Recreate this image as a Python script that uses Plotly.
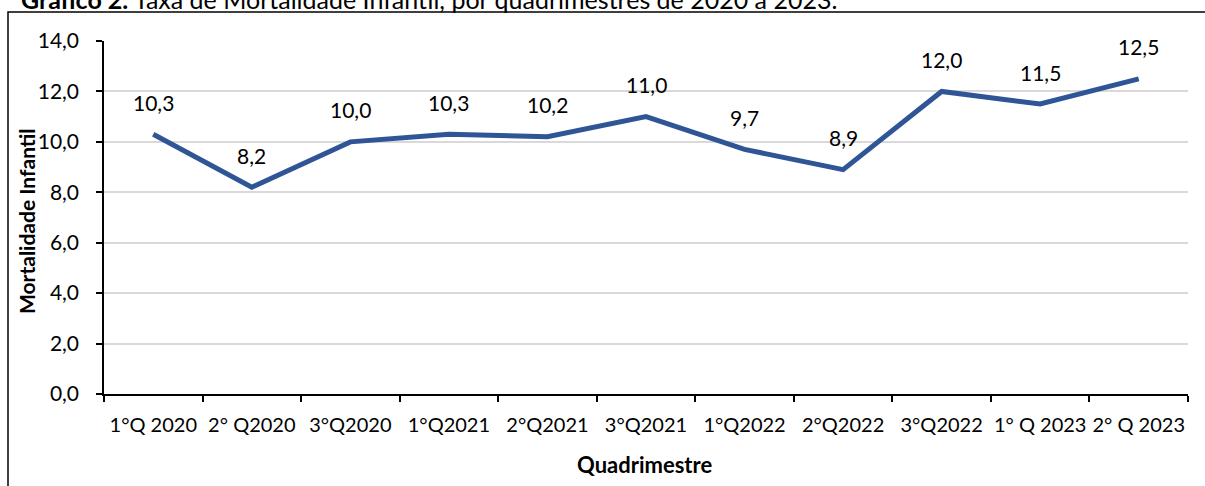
import plotly.graph_objects as go

categories = ["1°Q 2020", "2° Q2020", "3°Q2020", "1°Q2021", "2°Q2021", "3°Q2021",
              "1°Q2022", "2°Q2022", "3°Q2022", "1° Q 2023", "2° Q 2023"]
values = [10.3, 8.2, 10.0, 10.3, 10.2, 11.0, 9.7, 8.9, 12.0, 11.5, 12.5]
y_ticks = [0, 2, 4, 6, 8, 10, 12, 14]

W, H = 1205, 486
ML, MR, MT, MB = 104, 17, 41, 92
PW, PH = W - ML - MR, H - MT - MB

def px_x(px):
    return (px - ML) / PW

def px_y(py):
    return (H - MB - py) / PH

FONT = "Lato"
fig = go.Figure()
fig.add_trace(go.Scatter(
    x=categories, y=values, mode="lines",
    line=dict(color="#2F5597", width=5),
    hoverinfo="x+y", showlegend=False,
))

def fmt(v):
    return f"{v:.1f}".replace(".", ",")

for c, v in zip(categories, values):
    fig.add_annotation(x=c, y=v, text=fmt(v), showarrow=False, yshift=32,
                       font=dict(family=FONT, size=21, color="#000000"))

# Title (partially cut at top, as in the reference)
fig.add_annotation(xref="paper", yref="paper", x=px_x(19), y=px_y(-1),
                   xanchor="left", yanchor="middle", showarrow=False,
                   text="<b>Gráfico 2.</b> Taxa de Mortalidade Infantil, por quadrimestres de 2020 a 2023.",
                   font=dict(family=FONT, size=25, color="#000000"))

# outer border
fig.add_shape(type="rect", xref="paper", yref="paper",
              x0=px_x(8), x1=px_x(W + 5), y0=px_y(H + 5), y1=px_y(12),
              line=dict(color="#000000", width=1.5), fillcolor="rgba(0,0,0,0)", layer="below")

# axis titles placed at reference pixel positions
fig.add_annotation(xref="paper", yref="paper", x=px_x(644), y=px_y(464),
                   xanchor="center", yanchor="middle", showarrow=False,
                   text="<b>Quadrimestre</b>", font=dict(family=FONT, size=22, color="#000000"))
fig.add_annotation(xref="paper", yref="paper", x=px_x(26), y=px_y(221),
                   xanchor="center", yanchor="middle", showarrow=False, textangle=-90,
                   text="<b>Mortalidade Infantil</b>", font=dict(family=FONT, size=21, color="#000000"))

fig.update_layout(
    width=W, height=H,
    margin=dict(l=ML, r=MR, t=MT, b=MB, autoexpand=False),
    paper_bgcolor="white", plot_bgcolor="white",
    font=dict(family=FONT, size=16, color="#000000"),
    xaxis=dict(
        type="category", tickson="boundaries", range=[-0.5, 10.5],
        showline=True, linecolor="#000000", linewidth=2,
        ticks="outside", ticklen=6, tickcolor="#000000", tickwidth=1.5,
        showgrid=False, tickfont=dict(family=FONT, size=20), tickangle=0,
        ticklabelstandoff=12,
        automargin=False, fixedrange=True,
    ),
    yaxis=dict(
        range=[0, 14], tickvals=y_ticks, ticktext=[fmt(t) for t in y_ticks],
        showline=True, linecolor="#000000", linewidth=1.5,
        ticks="outside", ticklen=6, tickcolor="#000000", tickwidth=1.5,
        showgrid=True, gridcolor="#D9D9D9", gridwidth=1.5, zeroline=False,
        tickfont=dict(family=FONT, size=21), ticklabelstandoff=13,
        automargin=False, fixedrange=True,
    ),
)

fig.write_html("out.html", config={"displayModeBar": False},
               post_script="document.body.style.margin='0';")
